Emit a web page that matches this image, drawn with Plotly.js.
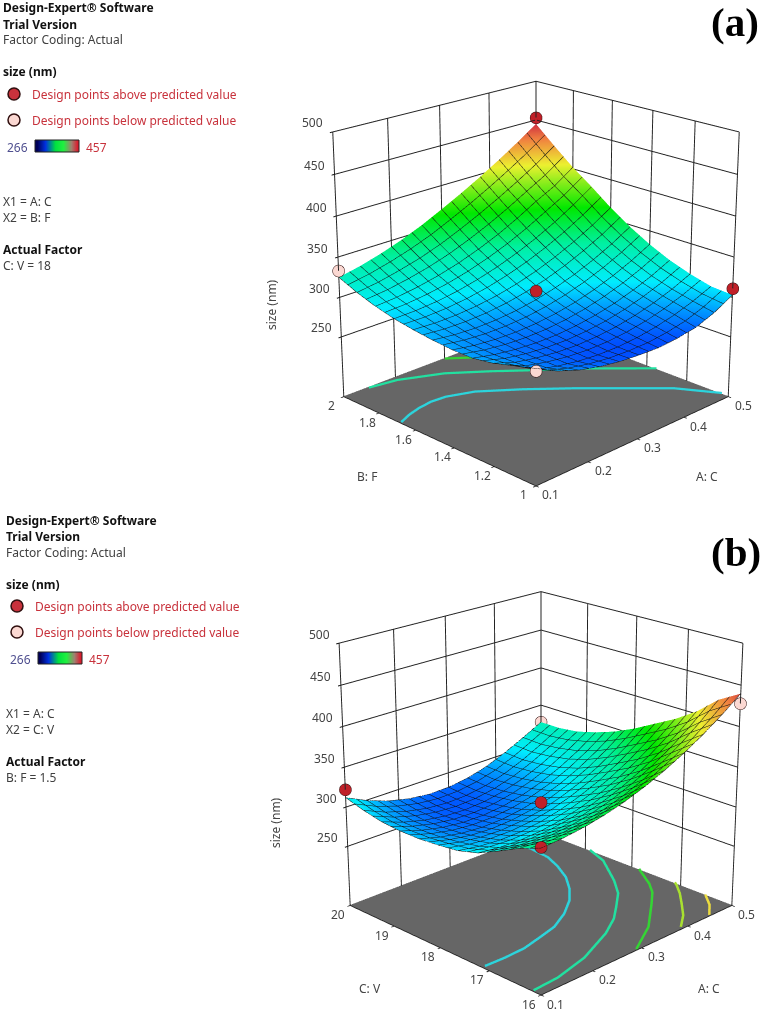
<!DOCTYPE html>
<html><head><meta charset="utf-8">
<script src="https://cdn.plot.ly/plotly-3.0.1.min.js"></script>
<style>html,body{margin:0;padding:0;background:#fff;overflow:hidden;width:762px;height:1015px}
#g{position:absolute;left:0;top:-462px;width:850px;height:1970px}</style></head>
<body><div id="g"></div>
<script>
// ---------- data ----------
const factorC = [0.1,0.14,0.18,0.22,0.26,0.3,0.34,0.38,0.42,0.46,0.5];
const factorF = [1,1.1,1.2,1.3,1.4,1.5,1.6,1.7,1.8,1.9,2];
const factorV = [16,16.4,16.8,17.2,17.6,18,18.4,18.8,19.2,19.6,20];
const sizeA = [
[310,297,288,282,278,276,275,277,281,290,303],
[303,288.8,282.6,278.4,276.2,276,277.8,281.6,287.4,295.2,305],
[296,287.1,282.3,279.3,278.1,279,281.7,286.5,293.1,301.5,312],
[292,286.4,282.8,281,281,283,286.8,292.6,300.2,309.6,321],
[292,287.6,285.2,284.6,285.8,289,294,301,309.8,320.4,333],
[294,290.8,289.5,290.1,292.6,297,303.3,311.5,321.6,333.6,347.5],
[297,295.5,296,298.2,302.1,308,315.6,325.2,336.5,349.5,364.5],
[301,301.6,303.8,307.8,313.6,321,330.2,341,353.6,368,384],
[307,309.1,313.1,318.7,325.9,335,345.7,358.3,372.5,385,402],
[315,319,325,332,341,352,364,377,391,406,423],
[325,330.6,338,347,357.6,370,383,397,412,428,445]];
const sizeB = [
[345,346.4,349.6,354.6,361.4,370,380.4,392.6,406.6,422.4,440],
[335,333.2,333.8,336.8,342.2,350,360.2,372.8,387.8,405.2,425],
[322,319.5,319.3,321.5,326.1,333,342.3,353.9,367.9,384.3,403],
[310,306.8,306,307.6,311.6,318,326.8,338,351.6,367.6,386],
[303,298.6,296.6,297.2,300.4,306,314.2,324.8,338,353.8,372],
[300,294,290.4,289.6,291.6,296,303.2,312.8,325.2,340.4,358],
[298,290.6,285.8,283.8,284.6,288,294.2,303,314.6,329,346],
[298,289.5,283.7,280.7,280.5,283,288.3,296.3,307.1,320.7,337],
[300,290.2,283.4,279.4,278.2,280,284.6,292.2,302.6,315.8,330],
[305,293.6,285.4,280.2,278,279,283,290.2,300.4,313,327],
[312,299.2,289.8,283.6,280.6,281,284.6,291.6,301.8,314,327]];
// design points
const ptsA_C=[0.5,0.5,0.3], ptsA_F=[2,1,1.5], ptsA_z=[453,311,308];
const ptsA_lowC=[0.1,0.1], ptsA_lowF=[2,1], ptsA_lowz=[333,307];
const ptsB_C=[0.1,0.3,0.1], ptsB_V=[20,18,16], ptsB_z=[322,306,346];
const ptsB_lowC=[0.5,0.5], ptsB_lowV=[20,16], ptsB_lowz=[327,428];
// floor contours
const contA1C=[0.1,0.125,0.149,0.176,0.203,0.246,0.301,0.357,0.41,0.463,0.5], contA1F=[1.678,1.705,1.722,1.732,1.726,1.683,1.574,1.447,1.315,1.182,1.03];
const contA2C=[0.144,0.192,0.259,0.312,0.365,0.428,0.5], contA2F=[1.988,1.966,1.886,1.78,1.663,1.528,1.35];
const contA3C=[0.297,0.349,0.4,0.45,0.5], contA3F=[1.99,1.883,1.78,1.7,1.6];
const contB1C=[0.103,0.139,0.18,0.223,0.259,0.301,0.34,0.37,0.397,0.417,0.432,0.437,0.43], contB1V=[17.12,17.11,17.13,17.23,17.32,17.53,17.8,18.09,18.43,18.8,19.16,19.6,20];
const contB2C=[0.1,0.149,0.218,0.296,0.34,0.372,0.41,0.44,0.484,0.5], contB2V=[16.14,16.17,16.33,16.65,16.9,17.15,17.46,17.82,18.46,18.9];
const contB3C=[0.289,0.355,0.418,0.449,0.469,0.493,0.5], contB3V=[16,16.36,16.86,17.12,17.36,17.74,17.85];
const contB4C=[0.388,0.42,0.449,0.475,0.496,0.5], contB4V=[16.03,16.26,16.54,16.8,17.05,17.12];
const contB5C=[0.448,0.475,0.497,0.5], contB5V=[16,16.22,16.48,16.5];
const contColors=['#2cd4dc','#22e0a0','#34d434','#a8e030','#ecdc40'];
const tickC=[0.1,0.2,0.3,0.4,0.5], tickF=[1,1.2,1.4,1.6,1.8,2], tickV=[16,17,18,19,20], tickZ=[250,300,350,400,450,500];
const floorZ=173;
const rampVals=[[0,1,2,3,4,5,6,7,8,9,10]];
// ---------- page geometry (page pixels -> paper) ----------
const W=850,H=1970,T=462,SH=1460;
const px=x=>x/W, py=y=>1-(y+T)/H;
const SCALE=[[0,'#0038ff'],[0.06,'#0050ff'],[0.218,'#00ecff'],[0.385,'#00f0a0'],[0.553,'#00e800'],[0.777,'#ecf030'],[0.916,'#f08040'],[1,'#d03040']];
const FONT='"Noto Sans",sans-serif';
function surf(x,y,z,ystep,sc){return {type:'surface',scene:sc,x:x,y:y,z:z,cmin:266,cmax:445,colorscale:SCALE,showscale:false,hoverinfo:'skip',
  lighting:{ambient:1,diffuse:0,specular:0,roughness:1,fresnel:0},
  contours:{x:{show:true,start:0.1,end:0.5,size:0.02,color:'#111',width:2,highlight:false},
            y:{show:true,start:y[0],end:y[y.length-1],size:ystep,color:'#111',width:2,highlight:false},z:{highlight:false}}};}
function floor(x0,x1,y0,y1,sc){return {type:'surface',scene:sc,x:[x0,x1],y:[y0,y1],z:[[floorZ+0.4,floorZ+0.4],[floorZ+0.4,floorZ+0.4]],
  colorscale:[[0,'#666666'],[1,'#666666']],showscale:false,hoverinfo:'skip',lighting:{ambient:1,diffuse:0,specular:0,fresnel:0},contours:{x:{highlight:false},y:{highlight:false},z:{highlight:false}}};}
function cont(x,y,c,sc){return {type:'scatter3d',scene:sc,mode:'lines',x:x,y:y,z:x.map(()=>floorZ+1.5),line:{color:c,width:5},hoverinfo:'skip',showlegend:false};}
function pts(x,y,z,c,sc){return {type:'scatter3d',scene:sc,mode:'markers',x:x,y:y,z:z,marker:{size:7,color:c,line:{color:'#301010',width:1},opacity:1},hoverinfo:'skip',showlegend:false};}
function axis(range,vals){return {range:range,tickvals:vals,showticklabels:false,title:{text:''},showgrid:true,gridcolor:'#222',gridwidth:2,showbackground:false,zeroline:false,
  showline:true,linecolor:'#222',linewidth:2,ticks:'outside',ticklen:3,tickcolor:'#111',tickwidth:2,showspikes:false,mirror:false,autorange:false};}
const tickFont={family:FONT,size:12,color:'#444'};
function lab(x,y,z,s,dx,dy){return {x:x,y:y,z:z,text:String(s),showarrow:false,xshift:dx,yshift:dy,font:tickFont,xanchor:'center',yanchor:'middle'};}
function sceneAnn(xt,yt){const x0=xt[0],y0=yt[0],y1=yt[yt.length-1];
  return [].concat(tickZ.map(v=>lab(x0,y1,v,v,-20,9)),xt.map(v=>lab(v,y0,floorZ,v,15,-9)),yt.map(v=>lab(x0,v,floorZ,v,-12,-9)));}
function scene(cy,cx,xr,yr,xt,yt,eye){const x0=cx-305,x1=cx+305,ty=cy-SH/2;return {domain:{x:[px(x0),px(x1)],y:[py(ty+SH),py(ty)]},
  xaxis:axis(xr,xt),yaxis:axis(yr,yt),zaxis:axis([floorZ,500],tickZ),bgcolor:'rgba(0,0,0,0)',dragmode:false,annotations:sceneAnn(xt,yt),
  aspectmode:'manual',aspectratio:{x:1,y:1,z:1.01},camera:{eye:eye,center:{x:0,y:0,z:0},up:{x:0,y:0,z:1},projection:{type:'perspective'}}};}
const RAMP=[[0,'#00005a'],[0.2,'#0030e0'],[0.45,'#00e040'],[0.65,'#20f040'],[0.85,'#a08070'],[1,'#d82030']];
const traces=[
 floor(0.1,0.5,1,2,'scene'),surf(factorC,factorF,sizeA,0.05,'scene'),
 cont(contA1C,contA1F,contColors[0],'scene'),cont(contA2C,contA2F,contColors[1],'scene'),cont(contA3C,contA3F,contColors[2],'scene'),
 pts(ptsA_C,ptsA_F,ptsA_z,'#c02028','scene'),pts(ptsA_lowC,ptsA_lowF,ptsA_lowz,'#fbd8d2','scene'),
 floor(0.1,0.5,16,20,'scene2'),surf(factorC,factorV,sizeB,0.2,'scene2'),
 cont(contB1C,contB1V,contColors[0],'scene2'),cont(contB2C,contB2V,contColors[1],'scene2'),cont(contB3C,contB3V,contColors[2],'scene2'),cont(contB4C,contB4V,contColors[3],'scene2'),cont(contB5C,contB5V,contColors[4],'scene2'),
 pts(ptsB_C,ptsB_V,ptsB_z,'#c02028','scene2'),pts(ptsB_lowC,ptsB_lowV,ptsB_lowz,'#fbd8d2','scene2'),
 {type:'heatmap',z:rampVals,xaxis:'x',yaxis:'y',zsmooth:'best',showscale:false,hoverinfo:'skip',colorscale:RAMP},
 {type:'heatmap',z:rampVals,xaxis:'x2',yaxis:'y2',zsmooth:'best',showscale:false,hoverinfo:'skip',colorscale:RAMP}
];
const ann=[];
function t(x,y,s,o){ann.push(Object.assign({xref:'paper',yref:'paper',x:px(x),y:py(y),text:s,showarrow:false,xanchor:'left',yanchor:'middle',borderpad:0,borderwidth:0,font:{family:FONT,size:12,color:'#404040'}},o||{}));}
const RED='#c8323c',BLK='#111';
function panel(dx,dy,x1,x2,af){
 t(3+dx,8+dy,'<b>Design-Expert® Software</b>',{font:{family:FONT,size:12,color:BLK}});
 t(3+dx,24+dy,'<b>Trial Version</b>',{font:{family:FONT,size:12,color:BLK}});
 t(3+dx,40+dy,'Factor Coding: Actual');
 t(3+dx,72+dy,'<b>size (nm)</b>',{font:{family:FONT,size:12,color:BLK}});
 t(32+dx,94+dy,'Design points above predicted value',{font:{family:FONT,size:12,color:RED}});
 t(32+dx,120+dy,'Design points below predicted value',{font:{family:FONT,size:12,color:RED}});
 t(7+dx,147+dy,'266',{font:{family:FONT,size:12,color:'#505090'}});
 t(86+dx,147+dy,'457',{font:{family:FONT,size:12,color:RED}});
 t(3+dx,201+dy,x1); t(3+dx,217+dy,x2);
 t(3+dx,249+dy,'<b>Actual Factor</b>',{font:{family:FONT,size:12,color:BLK}});
 t(3+dx,265+dy,af);
}
panel(0,0,'X1 = A: C','X2 = B: F','C: V = 18');
panel(3,512,'X1 = A: C','X2 = C: V','B: F = 1.5');
const serif={family:'"Liberation Serif",serif',size:41,color:'#000'};
t(735,22,'<b>(a)</b>',{xanchor:'center',font:serif});
t(736,552,'<b>(b)</b>',{xanchor:'center',font:serif});
const axf={family:FONT,size:12,color:'#444'};
t(707,476,'A: C',{xanchor:'center',font:axf}); t(367,476,'B: F',{xanchor:'center',font:axf});
t(272,305,'size (nm)',{xanchor:'center',textangle:-90,font:axf});
t(709,988,'A: C',{xanchor:'center',font:axf}); t(370,988,'C: V',{xanchor:'center',font:axf});
t(275,823,'size (nm)',{xanchor:'center',textangle:-90,font:axf});
function dot(x,y,c){return {type:'circle',xref:'paper',yref:'paper',x0:px(x-6),x1:px(x+6),y0:py(y+6),y1:py(y-6),fillcolor:c,line:{color:'#301010',width:1.5}};}
function rect(x0,x1,y0,y1){return {type:'rect',xref:'paper',yref:'paper',x0:px(x0),x1:px(x1),y0:py(y1),y1:py(y0),line:{color:'#222',width:1},fillcolor:'rgba(0,0,0,0)'};}
const shapes=[dot(14,94,'#c8323c'),dot(14,120,'#fbd8d2'),dot(17,606,'#c8323c'),dot(17,632,'#fbd8d2'),rect(35,79,140,152),rect(38,82,652,664)];
const hidden=d=>({domain:d,visible:false,fixedrange:true});
const layout={width:W,height:H,autosize:false,margin:{l:0,r:0,t:0,b:0},paper_bgcolor:'rgba(0,0,0,0)',showlegend:false,
 scene:scene(268,536,[0.1,0.5],[1,2],tickC,tickF,{x:-4.18,y:-4.18,z:2.2}),
 scene2:scene(778,541,[0.1,0.5],[16,20],tickC,tickV,{x:-4.2,y:-4.2,z:2.25}),
 annotations:ann,shapes:shapes,
 xaxis:hidden([px(35),px(79)]),yaxis:hidden([py(152),py(140)]),
 xaxis2:hidden([px(38),px(82)]),yaxis2:hidden([py(664),py(652)])};
Plotly.newPlot('g',traces,layout,{displayModeBar:false});
</script></body></html>
